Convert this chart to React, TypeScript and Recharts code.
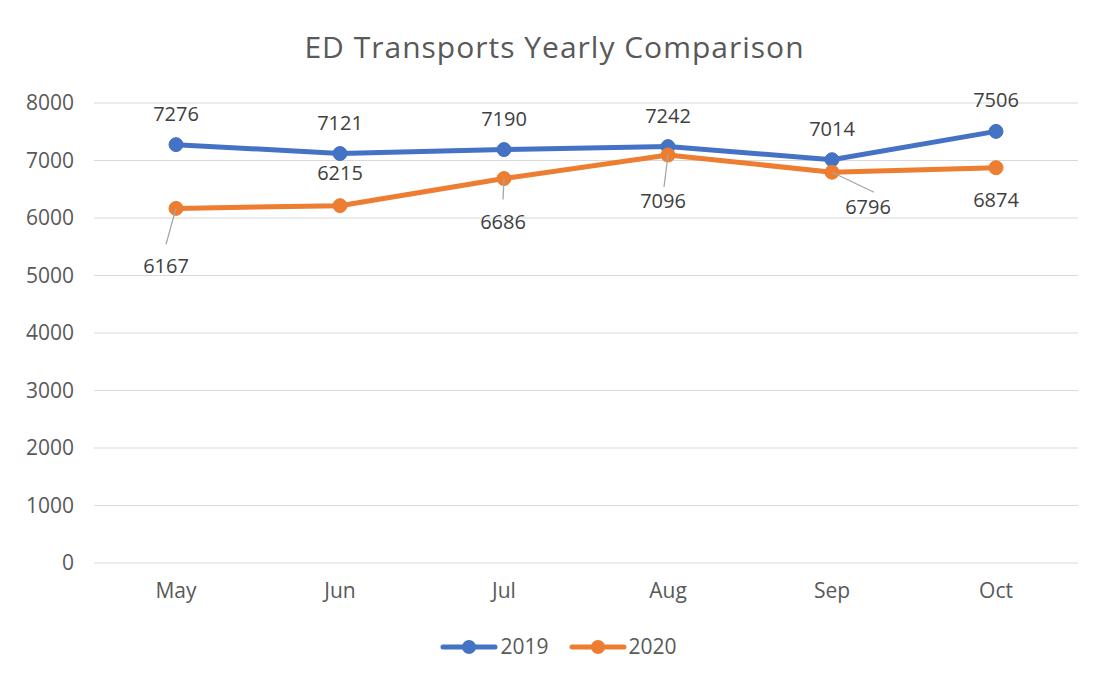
import React from 'react';
import { LineChart, Line, XAxis, YAxis, CartesianGrid, LabelList } from 'recharts';

const months = ['May', 'Jun', 'Jul', 'Aug', 'Sep', 'Oct'];
const series2019 = [7276, 7121, 7190, 7242, 7014, 7506];
const series2020 = [6167, 6215, 6686, 7096, 6796, 6874];
const yTicks = [0, 1000, 2000, 3000, 4000, 5000, 6000, 7000, 8000];
const seriesNames = ['2019', '2020'];

const data = months.map((m, i) => ({ month: m, y2019: series2019[i], y2020: series2020[i] }));

const FONT = '"Open Sans", sans-serif';
const TEXT = '#595959';
const BLUE = '#4472C4';
const ORANGE = '#ED7D31';
const COLORS = [BLUE, ORANGE];

// label placement relative to point: [dx, dy, leaderEndDx, leaderEndDy] (leader null if none)
const offsets2019: [number, number, number | null, number | null][] = [
  [0, -31, null, null], [0, -31, null, null], [0, -31, null, null],
  [0, -31, null, null], [0, -31, null, null], [0, -32, null, null],
];
const offsets2020: [number, number, number | null, number | null][] = [
  [-10, 57, -10, 36], [0, -33, null, null], [-1, 43, -1, 21],
  [-5, 46, -4, 32], [36, 34, 42, 20], [0, 32, null, null],
];

const makeLabel = (offs: typeof offsets2019) => (props: any) => {
  const { x, y, value, index } = props;
  const [dx, dy, lx, ly] = offs[index];
  return (
    <g>
      {lx !== null && ly !== null && (
        <line x1={x} y1={y} x2={x + lx} y2={y + ly} stroke="#a6a6a6" strokeWidth={1.3} />
      )}
      <text x={x + dx} y={y + dy} textAnchor="middle" dominantBaseline="central"
        fill="#404040" fontSize={20} fontFamily={FONT}>{value}</text>
    </g>
  );
};

export default function App() {
  return (
    <div style={{ position: 'relative', marginLeft: -3, marginTop: -4, width: 1097, height: 678, borderTop: '1px solid #d9d9d9', borderLeft: '1px solid #d9d9d9', background: '#fff' }}>
      <div style={{ position: 'absolute', left: 0, right: 0, top: 21, textAlign: 'center', fontFamily: FONT, fontSize: 30, letterSpacing: 1, color: TEXT, lineHeight: 'normal' }}>
        ED Transports Yearly Comparison
      </div>
      <LineChart width={1096} height={676} data={data} margin={{ top: 98, right: 24, bottom: 88, left: 0 }}>
        <CartesianGrid vertical={false} stroke="#d9d9d9" strokeWidth={1} />
        <XAxis dataKey="month" scale="band" axisLine={false} tickLine={false} tickMargin={14}
          tick={{ fill: TEXT, fontSize: 21, fontFamily: FONT }} />
        <YAxis width={88} domain={[0, 8000]} ticks={yTicks} axisLine={false} tickLine={false} tickMargin={14}
          tick={{ fill: TEXT, fontSize: 21, fontFamily: FONT }} />
        <Line name="2019" dataKey="y2019" stroke={BLUE} strokeWidth={5} dot={{ r: 7, fill: BLUE, stroke: BLUE, strokeWidth: 1 }} isAnimationActive={false}>
          <LabelList dataKey="y2019" content={makeLabel(offsets2019)} />
        </Line>
        <Line name="2020" dataKey="y2020" stroke={ORANGE} strokeWidth={5} dot={{ r: 7, fill: ORANGE, stroke: ORANGE, strokeWidth: 1 }} isAnimationActive={false}>
          <LabelList dataKey="y2020" content={makeLabel(offsets2020)} />
        </Line>
      </LineChart>
      <div style={{ position: 'absolute', left: 0, right: 0, top: 628, paddingLeft: 8, display: 'flex', justifyContent: 'center', gap: 20, fontFamily: FONT }}>
        {seriesNames.map((n, i) => (
          <div key={n} style={{ display: 'flex', alignItems: 'center' }}>
            <svg width={58} height={20}>
              <line x1={3} y1={10} x2={55} y2={10} stroke={COLORS[i]} strokeWidth={5} strokeLinecap="round" />
              <circle cx={29} cy={10} r={7} fill={COLORS[i]} />
            </svg>
            <span style={{ fontSize: 21, color: TEXT, marginLeft: 2, lineHeight: '27px' }}>{n}</span>
          </div>
        ))}
      </div>
    </div>
  );
}
